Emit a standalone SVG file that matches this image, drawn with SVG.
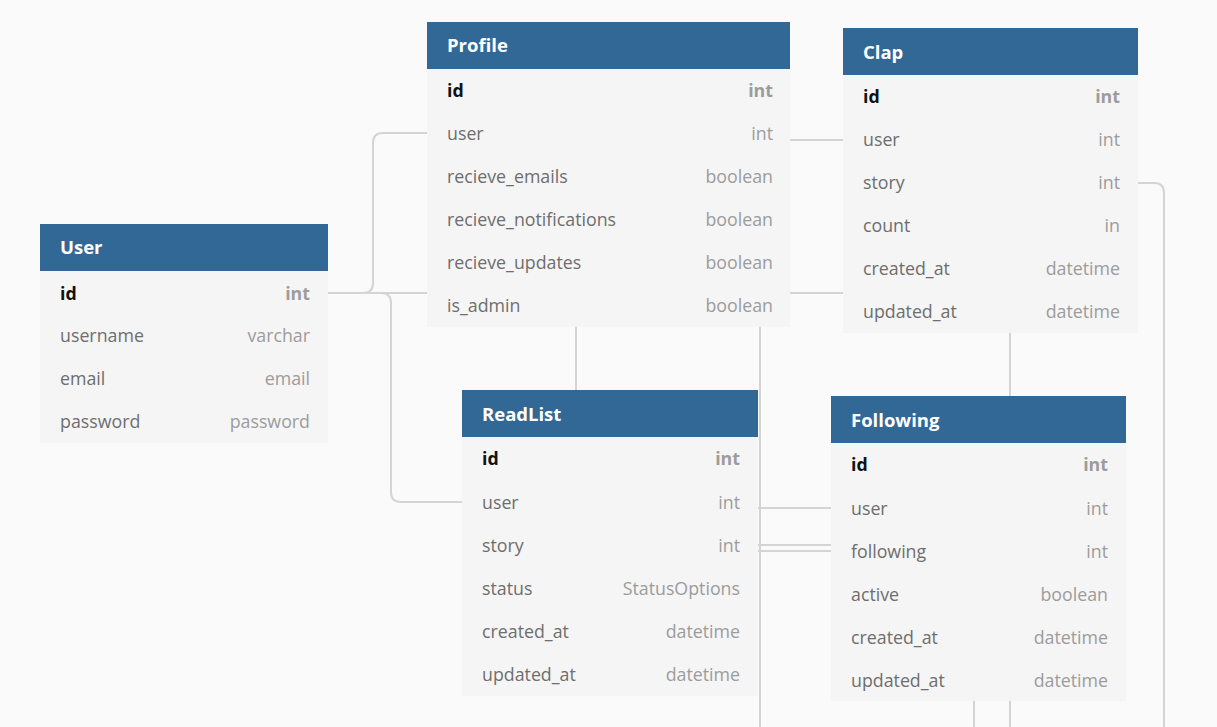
<svg xmlns="http://www.w3.org/2000/svg" width="1217" height="727" viewBox="0 0 1217 727">
<style>
.bg{fill:#fafafa}
.hd{fill:#316896}
.bd{fill:#f5f5f5}
.ttl{font-family:"Open Sans","Noto Sans",sans-serif;font-size:18.5px;font-weight:bold;fill:#ffffff}
.fn{font-family:"Open Sans","Noto Sans",sans-serif;font-size:17.8px;fill:#6e6e6e}
.ft{font-family:"Open Sans","Noto Sans",sans-serif;font-size:17.8px;fill:#9c9c9c;text-anchor:end}
.pk{font-family:"Open Sans","Noto Sans",sans-serif;font-size:17.8px;font-weight:bold;fill:#111}
.pt{font-family:"Open Sans","Noto Sans",sans-serif;font-size:17.8px;font-weight:bold;fill:#9c9c9c;text-anchor:end}
.c{fill:none;stroke:#d4d4d4;stroke-width:2}
</style>
<rect class="bg" x="0" y="0" width="1217" height="727"/>
<g id="connectors">
<path class="c" d="M328,293 H363 Q373,293 373,283 V143 Q373,133 383,133 H427"/>
<path class="c" d="M328,293 H381 Q391,293 391,303 V492 Q391,502 401,502 H462"/>
<path class="c" d="M328,293 H843"/>
<path class="c" d="M790,140 H843"/>
<path class="c" d="M576,327 V390"/>
<path class="c" d="M1010,333 V396"/>
<path class="c" d="M1138,183 H1154 Q1164,183 1164,193 V727"/>
<path class="c" d="M760,327 V727"/>
<path class="c" d="M758,508 H831"/>
<path class="c" d="M758,545 H831"/>
<path class="c" d="M758,551 H831"/>
<path class="c" d="M974,701 V727"/>
<path class="c" d="M1010,701 V727"/>
</g>
<g id="User">
<rect class="bd" x="40" y="224" width="288" height="219"/>
<rect class="hd" x="40" y="224" width="288" height="47"/>
<text class="ttl" x="60" y="254">User</text>
<text class="pk" x="60" y="300">id</text><text class="pt" x="310" y="300">int</text>
<text class="fn" x="60" y="342">username</text><text class="ft" x="310" y="342">varchar</text>
<text class="fn" x="60" y="385">email</text><text class="ft" x="310" y="385">email</text>
<text class="fn" x="60" y="428">password</text><text class="ft" x="310" y="428">password</text>
</g>
<g id="Profile">
<rect class="bd" x="427" y="22" width="363" height="305"/>
<rect class="hd" x="427" y="22" width="363" height="47"/>
<text class="ttl" x="447" y="52">Profile</text>
<text class="pk" x="447" y="97">id</text><text class="pt" x="773" y="97">int</text>
<text class="fn" x="447" y="140">user</text><text class="ft" x="773" y="140">int</text>
<text class="fn" x="447" y="183">recieve_emails</text><text class="ft" x="773" y="183">boolean</text>
<text class="fn" x="447" y="226">recieve_notifications</text><text class="ft" x="773" y="226">boolean</text>
<text class="fn" x="447" y="269">recieve_updates</text><text class="ft" x="773" y="269">boolean</text>
<text class="fn" x="447" y="312">is_admin</text><text class="ft" x="773" y="312">boolean</text>
</g>
<g id="Clap">
<rect class="bd" x="843" y="28" width="295" height="305"/>
<rect class="hd" x="843" y="28" width="295" height="47"/>
<text class="ttl" x="863" y="59">Clap</text>
<text class="pk" x="863" y="103">id</text><text class="pt" x="1120" y="103">int</text>
<text class="fn" x="863" y="146">user</text><text class="ft" x="1120" y="146">int</text>
<text class="fn" x="863" y="189">story</text><text class="ft" x="1120" y="189">int</text>
<text class="fn" x="863" y="232">count</text><text class="ft" x="1120" y="232">in</text>
<text class="fn" x="863" y="275">created_at</text><text class="ft" x="1120" y="275">datetime</text>
<text class="fn" x="863" y="318">updated_at</text><text class="ft" x="1120" y="318">datetime</text>
</g>
<g id="ReadList">
<rect class="bd" x="462" y="390" width="296" height="306"/>
<rect class="hd" x="462" y="390" width="296" height="47"/>
<text class="ttl" x="482" y="421">ReadList</text>
<text class="pk" x="482" y="465">id</text><text class="pt" x="740" y="465">int</text>
<text class="fn" x="482" y="509">user</text><text class="ft" x="740" y="509">int</text>
<text class="fn" x="482" y="552">story</text><text class="ft" x="740" y="552">int</text>
<text class="fn" x="482" y="595">status</text><text class="ft" x="740" y="595">StatusOptions</text>
<text class="fn" x="482" y="638">created_at</text><text class="ft" x="740" y="638">datetime</text>
<text class="fn" x="482" y="681">updated_at</text><text class="ft" x="740" y="681">datetime</text>
</g>
<g id="Following">
<rect class="bd" x="831" y="396" width="295" height="305"/>
<rect class="hd" x="831" y="396" width="295" height="47"/>
<text class="ttl" x="851" y="427">Following</text>
<text class="pk" x="851" y="471">id</text><text class="pt" x="1108" y="471">int</text>
<text class="fn" x="851" y="515">user</text><text class="ft" x="1108" y="515">int</text>
<text class="fn" x="851" y="558">following</text><text class="ft" x="1108" y="558">int</text>
<text class="fn" x="851" y="601">active</text><text class="ft" x="1108" y="601">boolean</text>
<text class="fn" x="851" y="644">created_at</text><text class="ft" x="1108" y="644">datetime</text>
<text class="fn" x="851" y="687">updated_at</text><text class="ft" x="1108" y="687">datetime</text>
</g>
</svg>
